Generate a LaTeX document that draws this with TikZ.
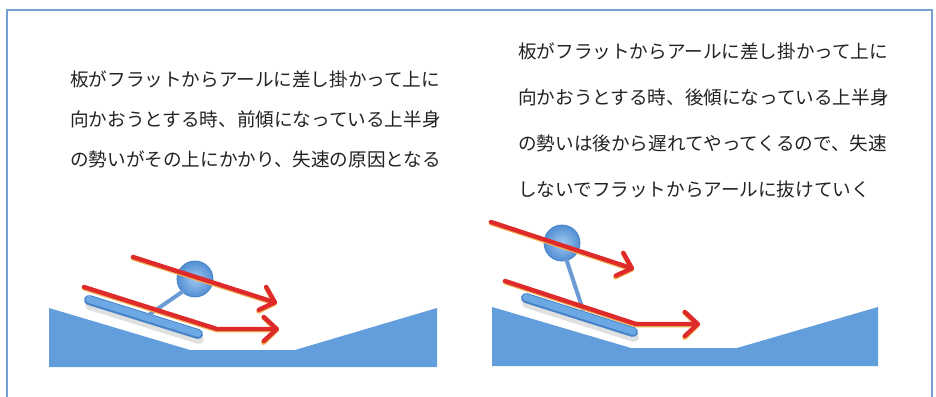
\documentclass[tikz,border=0pt]{standalone}
\usepackage{fontspec}
\newfontfamily\jpfont{Noto Sans CJK JP}
\usetikzlibrary{arrows.meta}
\definecolor{framecol}{RGB}{118,160,210}
\definecolor{groundcol}{RGB}{98,158,220}
\definecolor{boardcol}{RGB}{108,168,228}
\definecolor{boardedge}{RGB}{70,130,200}
\definecolor{headin}{RGB}{160,200,242}
\definecolor{headout}{RGB}{82,142,210}
\definecolor{forcecol}{RGB}{222,42,42}
\definecolor{glowcol}{RGB}{240,175,80}
\definecolor{inkcol}{RGB}{35,35,35}
\tikzset{
  caption/.style={anchor=west, inner sep=0pt, text=inkcol,
    font=\jpfont\fontsize{18.6pt}{20pt}\selectfont},
  ground/.style={fill=groundcol, draw=none},
  boardshadow/.style={line width=10pt, line cap=round, black!12},
  boardbody/.style={line width=10pt, line cap=round, boardedge},
  boardtop/.style={line width=7pt, line cap=round, boardcol},
  stick/.style={line width=4pt, line cap=round, boardedge!80!white},
  skihead/.style={circle, minimum size=36pt, inner sep=0pt,
    inner color=headin, outer color=headout, draw=boardedge, line width=0.8pt},
  forceglow/.style={line width=4.8pt, glowcol, line cap=round, line join=round,
    -{Straight Barb[length=13pt,width=25pt,round]}},
  force/.style={line width=4.4pt, forcecol, line cap=round, line join=round,
    -{Straight Barb[length=13pt,width=24pt,round]}}
}
\begin{document}
\begin{tikzpicture}[x=1pt,y=-1pt]
\useasboundingbox (0,0) rectangle (936,396);
\fill[white] (0,0) rectangle (936,396);

% outer frame
\draw[framecol, line width=2pt] (7,400) -- (7,10.5) -- (932,10.5) -- (932,400);

% captions
\node[caption] (l1) at (70,79)  {板がフラットからアールに差し掛かって上に};
\node[caption] (l2) at (70,119) {向かおうとする時、前傾になっている上半身};
\node[caption] (l3) at (70,159) {の勢いがその上にかかり、失速の原因となる};

\node[caption] (r1) at (518,51)  {板がフラットからアールに差し掛かって上に};
\node[caption] (r2) at (518,97)  {向かおうとする時、後傾になっている上半身};
\node[caption] (r3) at (518,143) {の勢いは後から遅れてやってくるので、失速};
\node[caption] (r4) at (518,189) {しないでフラットからアールに抜けていく};

% ---- left scene: leaning forward ----
\fill[ground] (49,308) -- (190,350) -- (295,350) -- (437,308) -- (437,367) -- (49,367) -- cycle;

\coordinate (lbA) at (89,300);
\coordinate (lbB) at (198,334);
\draw[boardshadow] ([shift={(1,5)}]lbA) -- ([shift={(1,5)}]lbB);
\draw[boardbody] (lbA) -- (lbB);
\draw[boardtop] ([shift={(0,-0.6)}]lbA) -- ([shift={(0,-0.6)}]lbB);

\node[skihead] (lhead) at (195,279) {};
\coordinate (lfoot) at (150,314);
\draw[stick] (lfoot) -- (lhead.225);

\coordinate (luS) at (133,257);
\coordinate (luE) at (277,303);
\coordinate (llS) at (84,287);
\coordinate (llM) at (217,329);
\coordinate (llE) at (279,329);
\draw[forceglow] ([shift={(0,1)}]luS) -- ([shift={(0,1)}]luE);
\draw[force] (luS) -- (luE);
\draw[forceglow] ([shift={(0,1)}]llS) -- ([shift={(0,1)}]llM) -- ([shift={(0,1)}]llE);
\draw[force] (llS) -- (llM) -- (llE);

% ---- right scene: leaning back ----
\fill[ground] (492,307) -- (631,348) -- (737,348) -- (878,307) -- (878,366) -- (492,366) -- cycle;

\coordinate (rbA) at (526,298);
\coordinate (rbB) at (633,332);
\draw[boardshadow] ([shift={(1,5)}]rbA) -- ([shift={(1,5)}]rbB);
\draw[boardbody] (rbA) -- (rbB);
\draw[boardtop] ([shift={(0,-0.6)}]rbA) -- ([shift={(0,-0.6)}]rbB);

\node[skihead] (rhead) at (562,243) {};
\coordinate (rfoot) at (583,310);
\draw[stick] (rfoot) -- (rhead.285);

\coordinate (ruS) at (491,222);
\coordinate (ruE) at (634,269);
\coordinate (rlS) at (505,281);
\coordinate (rlM) at (636,324);
\coordinate (rlE) at (700,324);
\draw[forceglow] ([shift={(0,1)}]ruS) -- ([shift={(0,1)}]ruE);
\draw[force] (ruS) -- (ruE);
\draw[forceglow] ([shift={(0,1)}]rlS) -- ([shift={(0,1)}]rlM) -- ([shift={(0,1)}]rlE);
\draw[force] (rlS) -- (rlM) -- (rlE);
\end{tikzpicture}
\end{document}
